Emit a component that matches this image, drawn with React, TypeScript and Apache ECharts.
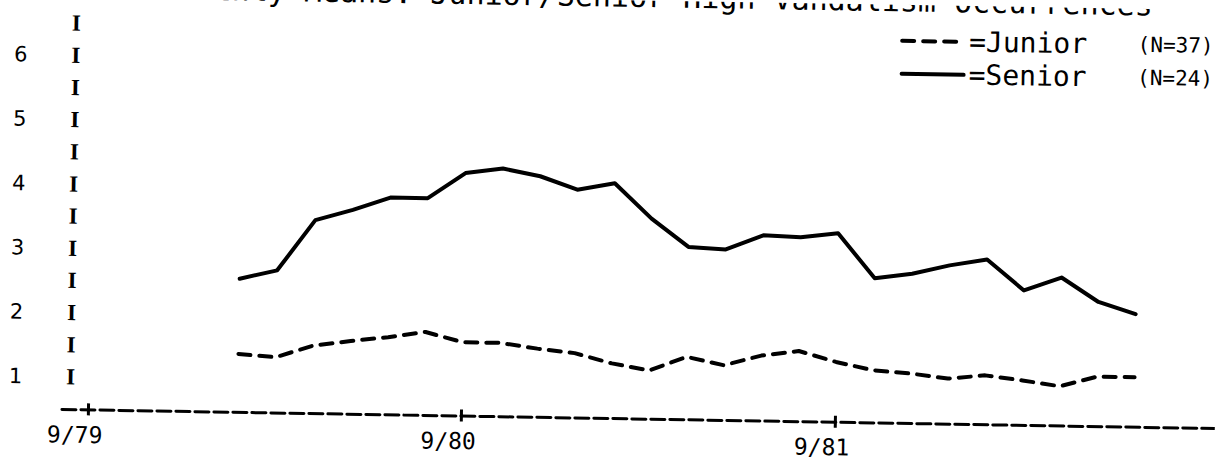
import React, { useEffect, useRef } from "react";
import * as echarts from "echarts";

// School-month axis: Sep 1979 = 0, ten school months (Sep–Jun) per year
const periodTicks = [0, 10, 20];
const periodLabels = ["9/79", "9/80", "9/81"];

const monthLabels = [
  "1/80", "2/80", "3/80", "4/80", "5/80", "6/80",
  "9/80", "10/80", "11/80", "12/80", "1/81", "2/81", "3/81", "4/81", "5/81", "6/81",
  "9/81", "10/81", "11/81", "12/81", "1/82", "2/82", "3/82", "4/82", "5/82",
];
const monthIndex = [4, 5, 6, 7, 8, 9, 10, 11, 12, 13, 14, 15, 16, 17, 18, 19, 20, 21, 22, 23, 24, 25, 26, 27, 28];

const juniorValues = [1.40, 1.36, 1.55, 1.63, 1.70, 1.79, 1.64, 1.64, 1.56, 1.50, 1.35, 1.25, 1.47, 1.35, 1.51, 1.59, 1.43, 1.31, 1.27, 1.20, 1.26, 1.19, 1.11, 1.27, 1.27];
const seniorValues = [2.57, 2.71, 3.50, 3.67, 3.87, 3.87, 4.27, 4.35, 4.24, 4.04, 4.15, 3.61, 3.18, 3.15, 3.38, 3.36, 3.43, 2.74, 2.82, 2.96, 3.06, 2.59, 2.80, 2.43, 2.25];

const juniorN = 37;
const seniorN = 24;

const yNumberTicks = [1, 2, 3, 4, 5, 6];
const yMarkTicks = [1, 1.5, 2, 2.5, 3, 3.5, 4, 4.5, 5, 5.5, 6, 6.5];

const titleText = "Monthly Means: Junior/Senior High Vandalism Occurrences";

export default function App() {
  const ref = useRef<HTMLDivElement>(null);

  useEffect(() => {
    if (!ref.current) return;
    const chart = echarts.init(ref.current, null, { renderer: "svg" });
    const toPairs = (vals: number[]) => vals.map((v, i) => [monthIndex[i], v]);
    const nById: Record<string, number> = { Junior: juniorN, Senior: seniorN };

    chart.setOption({
      animation: false,
      backgroundColor: "#fff",
      grid: { left: 65, right: 0, top: 32, bottom: 43, containLabel: false },
      graphic: [
        {
          type: "text",
          x: 1149,
          y: -4,
          style: {
            text: titleText,
            font: '30px "DejaVu Sans Mono"',
            fill: "#000",
            textAlign: "right",
            textVerticalAlign: "middle",
            align: "right",
            verticalAlign: "middle",
          },
        },
      ],
      legend: {
        orient: "vertical",
        left: 892,
        top: 17,
        padding: 5,
        itemWidth: 62,
        itemHeight: 14,
        itemGap: 5,
        data: ["Junior", "Senior"],
        itemStyle: { opacity: 0 },
        lineStyle: { width: 4, color: "#000" },
        formatter: (name: string) => `{a|=${name}}{b|    (N=${nById[name]})}`,
        textStyle: {
          color: "#000",
          rich: {
            a: { fontFamily: "DejaVu Sans Mono", fontSize: 28, lineHeight: 24, color: "#000" },
            b: { fontFamily: "DejaVu Sans Mono", fontSize: 21, lineHeight: 24, color: "#000" },
          },
        },
      },
      xAxis: [
        {
          type: "value",
          min: -0.7,
          max: 30.17,
          position: "bottom",
          splitLine: { show: false },
          axisTick: { show: false },
          axisLine: { show: true, lineStyle: { color: "#000", width: 3, type: [14, 5] } },
          axisLabel: {
            customValues: periodTicks,
            formatter: (v: number) => periodLabels[periodTicks.indexOf(v)] ?? "",
            margin: 14,
            color: "#000",
            fontFamily: "DejaVu Sans Mono",
            fontSize: 23,
            padding: [0, 26, 0, 0],
          },
        },
        {
          type: "value",
          min: -0.7,
          max: 30.17,
          position: "bottom",
          offset: -6,
          splitLine: { show: false },
          axisLine: { show: false },
          axisLabel: { show: false },
          axisTick: {
            show: true,
            customValues: periodTicks,
            length: 12,
            lineStyle: { color: "#000", width: 3 },
          },
        },
      ],
      yAxis: [
        {
          type: "value",
          min: 0.5,
          max: 6.5,
          position: "left",
          splitLine: { show: false },
          axisLine: { show: false },
          axisTick: { show: false },
          axisLabel: {
            customValues: yNumberTicks,
            align: "center",
            margin: 47,
            color: "#000",
            fontFamily: "DejaVu Sans",
            fontSize: 21,
          },
        },
        {
          type: "value",
          min: 0.5,
          max: 6.5,
          position: "left",
          splitLine: { show: false },
          axisLine: { show: false },
          axisTick: { show: false },
          axisLabel: {
            customValues: yMarkTicks,
            formatter: () => "I",
            align: "center",
            margin: -8,
            color: "#000",
            fontFamily: "Liberation Serif",
            fontWeight: "bold",
            fontSize: 23,
          },
        },
      ],
      series: [
        {
          name: "Junior",
          type: "line",
          data: toPairs(juniorValues),
          symbol: "none",
          lineStyle: { color: "#000", width: 4, type: [12, 9], cap: "round", join: "round" },
          itemStyle: { color: "#000" },
        },
        {
          name: "Senior",
          type: "line",
          data: toPairs(seniorValues),
          symbol: "none",
          lineStyle: { color: "#000", width: 4, type: "solid", cap: "round", join: "round" },
          itemStyle: { color: "#000" },
        },
      ],
    });

    return () => chart.dispose();
  }, []);

  return (
    <div
      ref={ref}
      data-months={monthLabels.length}
      style={{
        position: "absolute",
        left: 0,
        top: 0,
        width: 1218,
        height: 461,
        background: "#fff",
        transform: "rotate(0.95deg)",
        transformOrigin: "609px 230px",
      }}
    />
  );
}
